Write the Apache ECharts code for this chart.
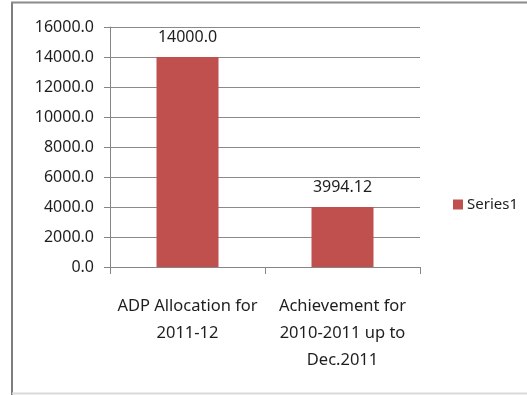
<!DOCTYPE html>
<html>
<head>
<meta charset="utf-8">
<script src="https://cdn.jsdelivr.net/npm/echarts@6/dist/echarts.min.js"></script>
<style>
html,body{margin:0;padding:0;background:#fff;}
#c{width:527px;height:395px;}
</style>
</head>
<body>
<div id="c"></div>
<script>
var categories = ['ADP Allocation for\n2011-12', 'Achievement for\n2010-2011 up to\nDec.2011'];
var seriesName = 'Series1';
var values = [14000.0, 3994.12];
var valueLabels = ['14000.0', '3994.12'];
var yMin = 0, yMax = 16000, yStep = 2000;

var chart = echarts.init(document.getElementById('c'), null, {renderer: 'canvas'});
var font = 'Noto Sans';
var textColor = '#1e1e1e';
chart.setOption({
  animation: false,
  backgroundColor: '#ffffff',
  textStyle: {fontFamily: font},
  graphic: [
    {type: 'line', shape: {x1: 12, y1: 2, x2: 12, y2: 395}, style: {stroke: '#7f7f7f', lineWidth: 2}},
    {type: 'line', shape: {x1: 11, y1: 2.5, x2: 527, y2: 2.5}, style: {stroke: '#8a8a8a', lineWidth: 2}},
    {type: 'line', shape: {x1: 12, y1: 393.5, x2: 527, y2: 393.5}, style: {stroke: '#d9d9d9', lineWidth: 2}}
  ],
  grid: {left: 110, right: 107, top: 27, bottom: 128, containLabel: false},
  legend: {
    show: true,
    data: [seriesName],
    left: 448, top: 192,
    itemWidth: 10, itemHeight: 10, itemGap: 5,
    icon: 'rect',
    textStyle: {fontFamily: font, fontSize: 15, color: textColor, padding: [0,0,0,-1]}
  },
  xAxis: {
    type: 'category',
    data: categories,
    boundaryGap: true,
    axisLine: {show: true, lineStyle: {color: '#868686', width: 1}},
    axisTick: {show: true, length: 7, alignWithLabel: false, lineStyle: {color: '#868686'}},
    axisLabel: {fontFamily: font, fontSize: 16.5, color: textColor, lineHeight: 27, margin: 26, interval: 0},
    splitLine: {show: false}
  },
  yAxis: {
    type: 'value',
    min: yMin, max: yMax, interval: yStep,
    axisLine: {show: true, lineStyle: {color: '#868686', width: 1}},
    axisTick: {show: true, length: 6, lineStyle: {color: '#868686'}},
    axisLabel: {fontFamily: font, fontSize: 16, color: textColor, margin: 16,
      formatter: function (v) { return v.toFixed(1); }},
    splitLine: {show: true, lineStyle: {color: '#8a8a8a', width: 1}}
  },
  series: [{
    name: seriesName,
    type: 'bar',
    data: values,
    barWidth: '40%',
    itemStyle: {color: '#C0504D'},
    label: {
      show: true, position: 'top', distance: 12,
      fontFamily: font, fontSize: 16, color: textColor,
      formatter: function (p) { return valueLabels[p.dataIndex]; }
    }
  }]
});
</script>
</body>
</html>
